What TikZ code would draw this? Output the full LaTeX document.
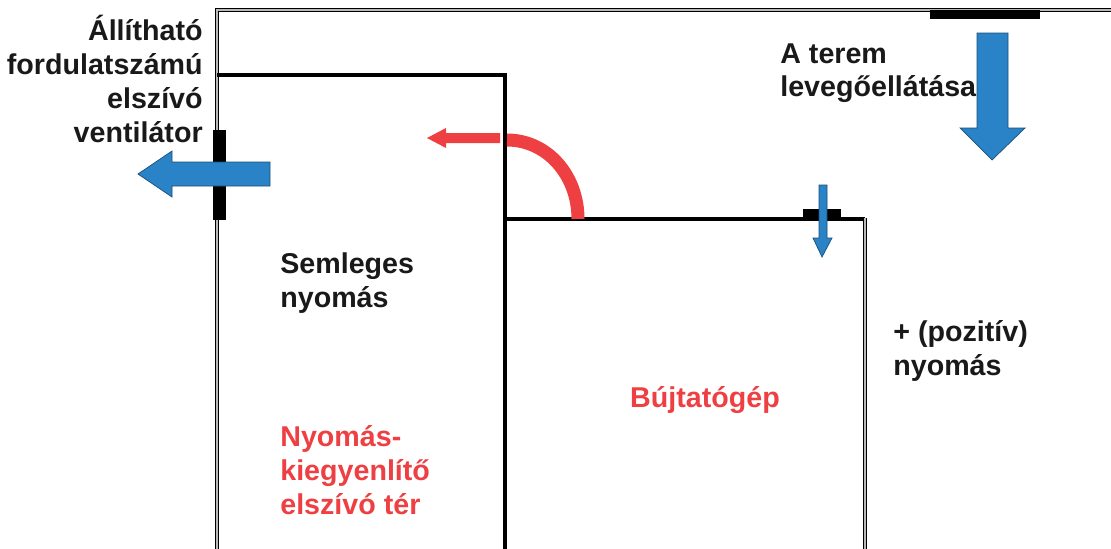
\documentclass[tikz,border=0pt]{standalone}
\usepackage{fontspec}
\setmainfont{Liberation Sans}
\definecolor{airblue}{RGB}{42,131,198}
\definecolor{flowred}{RGB}{238,64,66}

\begin{document}
\begin{tikzpicture}[
        x=0.02cm,
        y=-0.02cm,
        wall/.style={draw=black, line width=0.8pt, double=gray!55, double distance=1pt},
        partition/.style={draw=black, line width=2pt},
        vent/.style={fill=black},
        air/.style={fill=airblue, draw=airblue!60!black, line width=0.4pt},
        flow/.style={draw=flowred, line width=7.4pt},
        every node/.style={inner sep=0pt, font=\bfseries\fontsize{16.3}{19.3}\selectfont},
        txt/.style={text=black!90},
        redtxt/.style={text=flowred}
    ]
    \useasboundingbox (0,0) rectangle (1111,548);
    \clip (0,0) rectangle (1111,548);

    % room walls and partitions
    \draw[wall] (1120,10) -- (217,10) -- (217,560);
    \draw[partition] (217,75) -- (505,75) -- (505,560);
    \draw[partition] (505,219) -- (865,219);
    \draw[wall] (865,218) -- (865,560);

    % vents
    \fill[vent] (213,130) rectangle (226,220);
    \fill[vent] (930,10) rectangle (1040,19);
    \fill[vent] (803,209) rectangle (841,219);

    % blue air flows
    \filldraw[air] (270,162) -- (172,162) -- (172,151) -- (138,174)
        -- (172,197) -- (172,186) -- (270,186) -- cycle;
    \filldraw[air] (977,33) -- (1008,33) -- (1008,128) -- (1025,128)
        -- (992,160) -- (960,128) -- (977,128) -- cycle;
    \filldraw[air] (819,185) -- (827,185) -- (827,238) -- (832,238)
        -- (822,257) -- (813,238) -- (819,238) -- cycle;

    % red flow out of the machine
    \draw[flow] (507,140) .. controls (547,140) and (578,175) .. (578,219);
    \fill[flowred] (500,133) -- (446,133) -- (446,128) -- (427,138)
        -- (446,148) -- (446,143) -- (500,143) -- cycle;

    % labels
    \node[txt, align=right, anchor=north east] (fan) at (203,15)
        {Állítható\\fordulatszámú\\elszívó\\ventilátor};
    \node[txt, align=left, anchor=north west] (supply) at (780,43)
        {A terem\\levegőellátása};
    \node[txt, align=left, anchor=north west] (neutral) at (280,252)
        {Semleges\\nyomás};
    \node[txt, align=left, anchor=north west] (positive) at (893,320)
        {+ (pozitív)\\nyomás};
    \node[redtxt] (machine) at (705,400) {Bújtatógép};
    \node[redtxt, align=left, anchor=north west] (balance) at (280,425)
        {Nyomás-\\kiegyenlítő\\elszívó tér};
\end{tikzpicture}
\end{document}
